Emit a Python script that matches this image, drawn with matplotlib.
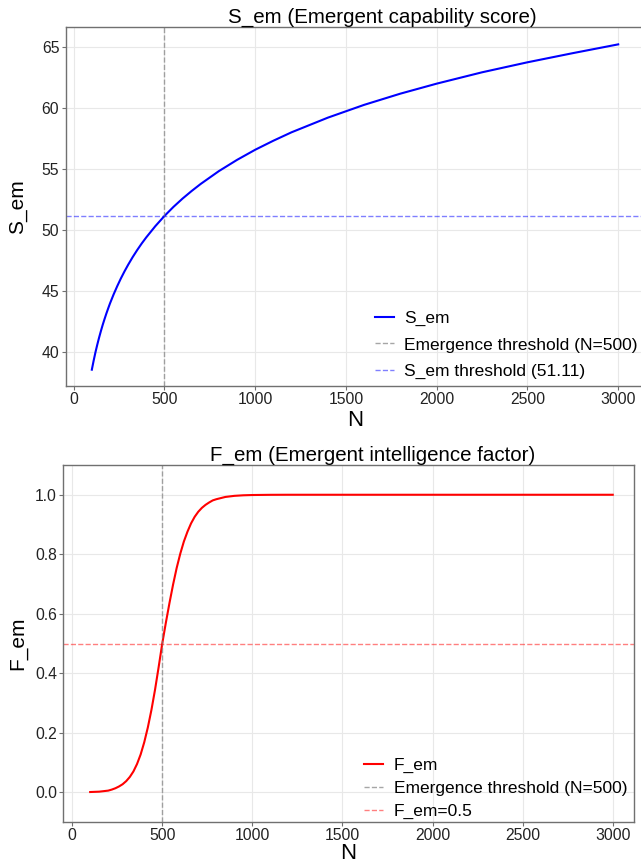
import matplotlib
matplotlib.use("Agg")
import matplotlib.pyplot as plt

plt.rcParams['font.family'] = ['Liberation Sans', 'DejaVu Sans']

# S_em values
n_s = [100, 110, 120, 130, 140, 150, 160, 170, 180, 190, 200, 220, 240, 260,
       280, 300, 325, 350, 375, 400, 450, 500, 550, 600, 650, 700, 800, 900,
       1000, 1100, 1200, 1400, 1600, 1800, 2000, 2250, 2500, 2750, 3000]
s_em = [38.51, 39.25, 39.94, 40.56, 41.14, 41.68, 42.19, 42.66, 43.11, 43.53,
        43.94, 44.68, 45.36, 45.99, 46.57, 47.11, 47.74, 48.32, 48.86, 49.36,
        50.28, 51.11, 51.86, 52.54, 53.16, 53.74, 54.79, 55.71, 56.54, 57.28,
        57.97, 59.17, 60.22, 61.14, 61.96, 62.89, 63.71, 64.46, 65.18]

# F_em values
n_f = [100, 150, 200, 220, 240, 260, 280, 300, 320, 340, 360, 380, 400, 420,
       440, 460, 480, 500, 520, 540, 560, 580, 600, 620, 640, 660, 680, 700,
       720, 740, 760, 780, 800, 850, 900, 950, 1000, 1100, 1200, 1500, 2000,
       2500, 3000]
f_em = [0.0008, 0.002, 0.0055, 0.009, 0.0135, 0.0195, 0.027, 0.0375,
        0.0515, 0.07, 0.095, 0.127, 0.168, 0.218, 0.277, 0.345, 0.421, 0.5,
        0.570, 0.636, 0.698, 0.754, 0.802, 0.843, 0.876, 0.904, 0.926, 0.943,
        0.956, 0.966, 0.974, 0.981, 0.985, 0.9926, 0.9963, 0.9982, 0.9991,
        0.9998, 1.0, 1.0, 1.0, 1.0, 1.0]

n_threshold = 500
s_threshold = 51.11
f_threshold = 0.5

x_ticks = [0, 500, 1000, 1500, 2000, 2500, 3000]
s_ticks = [40, 45, 50, 55, 60, 65]
f_ticks = [0.0, 0.2, 0.4, 0.6, 0.8, 1.0]

fig = plt.figure(figsize=(6.41, 8.64), dpi=100)
ax1 = fig.add_axes([0.1022, 0.5532, 0.9033, 0.4155])
ax2 = fig.add_axes([0.0988, 0.0486, 0.8903, 0.4132])


def style(ax):
    ax.grid(True, color='#e8e8e8', linewidth=0.8)
    ax.set_axisbelow(True)
    for sp in ax.spines.values():
        sp.set_color('#707070')
        sp.set_linewidth(1.0)
    ax.tick_params(labelsize=11.3, length=3, width=0.8, color='#707070',
                   labelcolor='#222222', pad=1.5)


ax1.plot(n_s, s_em, color='blue', linewidth=1.5, label='S_em')
ax1.axvline(n_threshold, color='gray', linestyle='--', linewidth=1, alpha=0.7,
            label='Emergence threshold (N=500)')
ax1.axhline(s_threshold, color='blue', linestyle='--', linewidth=1, alpha=0.5,
            label='S_em threshold (51.11)')
ax1.set_xlim(-45, 3145)
ax1.set_ylim(37.17, 66.6)
ax1.set_xticks(x_ticks)
ax1.set_yticks(s_ticks)
style(ax1)
ax1.set_title('S_em (Emergent capability score)', fontsize=14.8, x=0.547, pad=2)
ax1.set_xlabel('N', fontsize=16)
ax1.set_ylabel('S_em', fontsize=15)
ax1.yaxis.set_label_coords(-0.066, 0.5)
ax1.xaxis.set_label_coords(0.5, -0.066)
ax1.legend(loc='lower right', frameon=False, fontsize=12.5, handlelength=1.1,
           handletextpad=0.6, labelspacing=0.65, borderaxespad=0.0)

ax2.plot(n_f, f_em, color='red', linewidth=1.5, label='F_em')
ax2.axvline(n_threshold, color='gray', linestyle='--', linewidth=1, alpha=0.7,
            label='Emergence threshold (N=500)')
ax2.axhline(f_threshold, color='red', linestyle='--', linewidth=1, alpha=0.5,
            label='F_em=0.5')
ax2.set_xlim(-49, 3118)
ax2.set_ylim(-0.1, 1.1)
ax2.set_xticks(x_ticks)
ax2.set_yticks(f_ticks)
style(ax2)
ax2.set_title('F_em (Emergent intelligence factor)', fontsize=14.8, x=0.542, pad=2)
ax2.set_xlabel('N', fontsize=16)
ax2.set_ylabel('F_em', fontsize=15)
ax2.yaxis.set_label_coords(-0.063, 0.5)
ax2.xaxis.set_label_coords(0.5, -0.058)
ax2.legend(loc='lower right', bbox_to_anchor=(1.0, -0.012), frameon=False,
           fontsize=12.5, handlelength=1.1, handletextpad=0.6,
           labelspacing=0.45, borderaxespad=0.0)

fig.savefig('out.png', dpi=100)
